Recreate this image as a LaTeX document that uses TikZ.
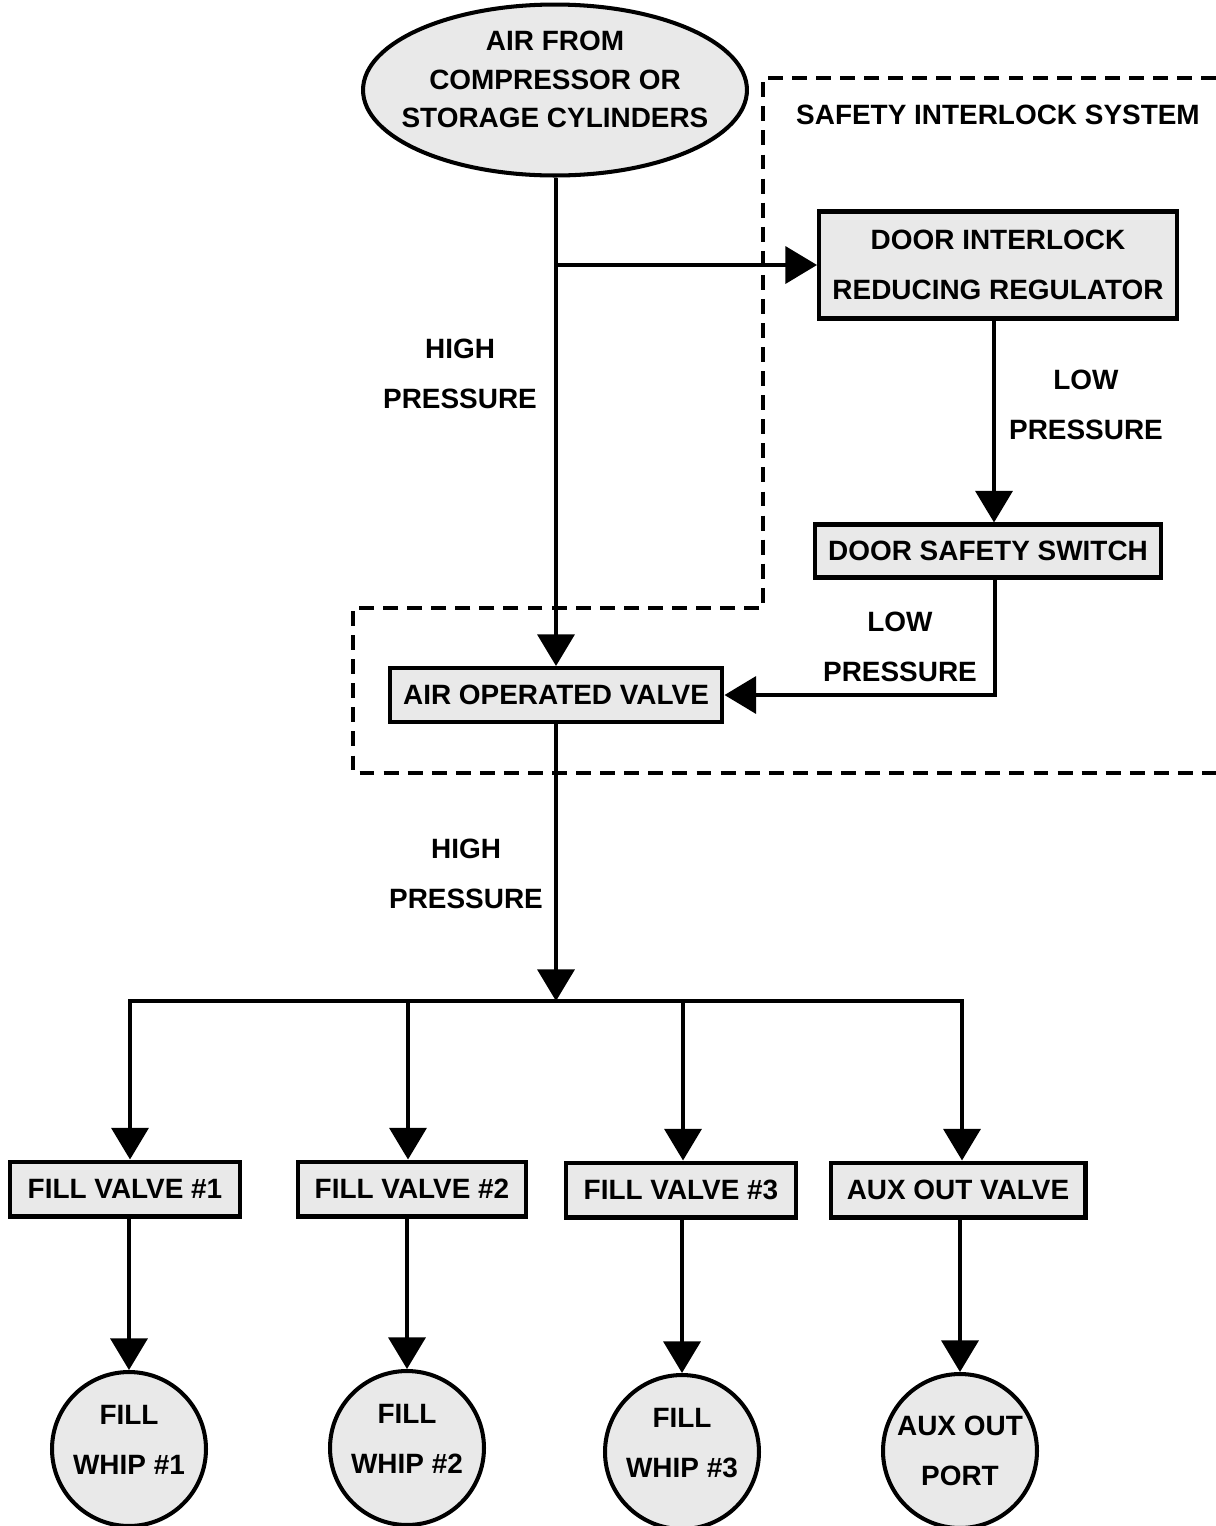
\documentclass[tikz,border=0pt]{standalone}
\usepackage{fontspec}
\setmainfont{Liberation Sans}
\usetikzlibrary{arrows.meta,shapes.geometric}
\definecolor{fillg}{HTML}{E9E9E9}
\tikzset{
  txt/.style={font=\bfseries\fontsize{15.9}{28.4}\selectfont, align=center},
  box/.style={txt, draw=black, fill=fillg, line width=2.3pt, inner sep=0pt},
  src/.style={box, ellipse, font=\bfseries\fontsize{15.9}{21.8}\selectfont, inner xsep=-0.4cm, text depth=12pt, minimum width=7.68cm, minimum height=3.42cm},
  whip/.style={box, circle, text depth=10pt, minimum size=3.08cm},
  flow/.style={draw=black, line width=2.3pt, -{Triangle[length=18pt,width=21pt]}},
  pipe/.style={draw=black, line width=2.3pt, line cap=rect},
  zone/.style={draw=black, line width=2.4pt, dash pattern=on 8.5pt off 5.2pt},
  lab/.style={txt},
}

\begin{document}
\begin{tikzpicture}[x=0.02cm, y=-0.02cm]
  \useasboundingbox (0,0) rectangle (1215,1526);
  % safety interlock boundary
  \draw[zone] (1216,78) -- (763,78) -- (763,608) -- (353,608) -- (353,773) -- (1216,773);
  \node[lab] (sis) at (998,115) {SAFETY INTERLOCK SYSTEM};

  \node[src] (air) at (555,90) {AIR FROM\\COMPRESSOR OR\\STORAGE CYLINDERS};
  \node[box, minimum width=7.16cm, minimum height=2.14cm] (reg) at (998,265) {DOOR INTERLOCK\\REDUCING REGULATOR};
  \node[box, minimum width=6.94cm, minimum height=1.06cm] (sw) at (988,551) {DOOR SAFETY SWITCH};
  \node[box, minimum width=6.66cm, minimum height=1.08cm] (aov) at (556,695) {AIR OPERATED VALVE};

  % pressure labels
  \node[lab] (hp1) at (460,374) {HIGH\\PRESSURE};
  \node[lab] (lp1) at (1086,405) {LOW\\PRESSURE};
  \node[lab] (lp2) at (900,647) {LOW\\PRESSURE};
  \node[lab] (hp2) at (466,874) {HIGH\\PRESSURE};

  % outlets
  \node[box, minimum width=4.6cm, minimum height=1.1cm] (fv1) at (125,1189) {FILL VALVE \#1};
  \node[box, minimum width=4.56cm, minimum height=1.1cm] (fv2) at (412,1189) {FILL VALVE \#2};
  \node[box, minimum width=4.6cm, minimum height=1.1cm] (fv3) at (681,1190) {FILL VALVE \#3};
  \node[box, minimum width=5.1cm, minimum height=1.1cm] (fv4) at (958,1190) {AUX OUT VALVE};
  \node[whip] (wh1) at (129,1449) {FILL\\WHIP \#1};
  \node[whip] (wh2) at (407,1448) {FILL\\WHIP \#2};
  \node[whip] (wh3) at (682,1452) {FILL\\WHIP \#3};
  \node[whip, text depth=0pt] (wh4) at (960,1451) {AUX OUT\\PORT};

  % connectors
  \coordinate (tap) at (556,265);
  \draw[flow] (tap |- air.south) -- (aov.north);
  \draw[flow] (tap) -- (tap -| reg.west);
  \draw[flow] ([xshift=-0.08cm]reg.south) -- ([xshift=-0.08cm]reg.south |- sw.north);
  \draw[flow] ([xshift=0.14cm]sw.south) |- (aov.east);
  \coordinate (hub) at (556,1001);
  \draw[flow] (aov.south) -- (hub);
  \foreach \i/\x in {1/130,2/408,3/683,4/962}
    \coordinate (b\i) at (\x,1001);
  \draw[pipe] (b1) -- (b4);
  \foreach \i in {1,...,4} {
    \draw[flow] (b\i) -- (b\i |- fv\i.north);
    \draw[flow] (fv\i.south -| wh\i.north) -- (wh\i.north);
  }
\end{tikzpicture}
\end{document}
